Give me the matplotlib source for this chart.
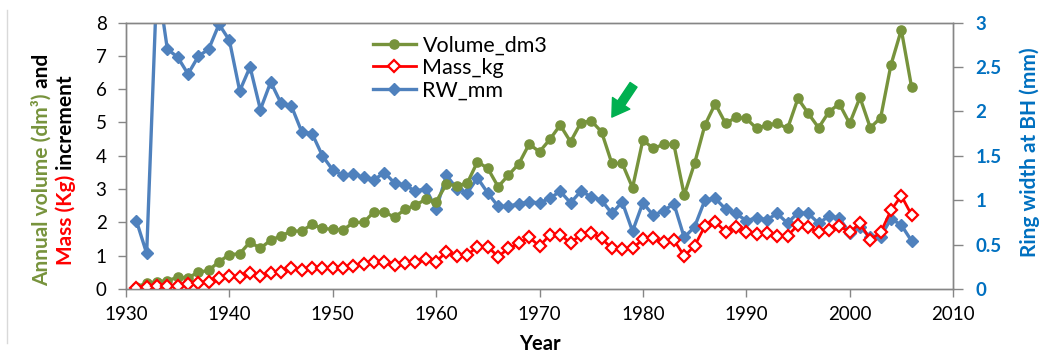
import matplotlib
matplotlib.use("Agg")
import matplotlib.pyplot as plt
from matplotlib.lines import Line2D
from matplotlib.ticker import FuncFormatter

plt.rcParams['font.family'] = ['Lato', 'DejaVu Sans']

years = list(range(1931, 2007))

volume_dm3 = [0.07, 0.17, 0.22, 0.25, 0.35, 0.34, 0.50, 0.56, 0.82, 1.03,
              1.06, 1.41, 1.22, 1.47, 1.59, 1.74, 1.74, 1.94, 1.82, 1.79,
              1.77, 2.00, 2.00, 2.32, 2.30, 2.16, 2.39, 2.52, 2.69, 2.62,
              3.15, 3.10, 3.17, 3.82, 3.62, 3.07, 3.42, 3.76, 4.35, 4.12,
              4.49, 4.92, 4.42, 4.99, 5.05, 4.72, 3.77, 3.77, 3.04, 4.47,
              4.22, 4.34, 4.34, 2.82, 3.77, 4.92, 5.56, 4.97, 5.15, 5.12,
              4.82, 4.92, 4.97, 4.82, 5.72, 5.27, 4.84, 5.32, 5.56, 4.97,
              5.75, 4.84, 5.14, 6.73, 7.78, 6.05]

mass_kg = [0.02, 0.07, 0.10, 0.10, 0.10, 0.14, 0.17, 0.22, 0.32, 0.38,
           0.35, 0.48, 0.40, 0.47, 0.52, 0.62, 0.57, 0.64, 0.62, 0.64,
           0.62, 0.69, 0.75, 0.82, 0.81, 0.72, 0.77, 0.82, 0.89, 0.82,
           1.12, 0.99, 1.02, 1.27, 1.27, 0.97, 1.22, 1.37, 1.55, 1.29,
           1.62, 1.62, 1.39, 1.62, 1.69, 1.52, 1.22, 1.19, 1.22, 1.49,
           1.52, 1.40, 1.47, 0.99, 1.29, 1.89, 2.02, 1.72, 1.87, 1.72,
           1.65, 1.67, 1.59, 1.60, 1.92, 1.86, 1.70, 1.77, 1.90, 1.70,
           1.97, 1.48, 1.70, 2.36, 2.80, 2.22]

rw_mm = [0.77, 0.40, 3.50, 2.70, 2.61, 2.42, 2.62, 2.70, 2.98, 2.80,
         2.23, 2.50, 2.02, 2.33, 2.09, 2.06, 1.77, 1.75, 1.50, 1.34,
         1.28, 1.29, 1.26, 1.23, 1.31, 1.19, 1.17, 1.10, 1.13, 0.90,
         1.28, 1.13, 1.08, 1.25, 1.08, 0.93, 0.93, 0.96, 0.98, 0.97,
         1.02, 1.10, 0.97, 1.10, 1.04, 1.00, 0.85, 0.98, 0.65, 0.97,
         0.83, 0.88, 0.96, 0.58, 0.70, 1.00, 1.02, 0.90, 0.85, 0.77,
         0.80, 0.78, 0.85, 0.74, 0.86, 0.85, 0.74, 0.82, 0.80, 0.63,
         0.70, 0.58, 0.59, 0.79, 0.72, 0.54]

green = '#77933C'
red = '#FF0000'
blue = '#4F81BD'
axis_blue = '#0070C0'
grey = '#868686'

W, H = 1043, 354
fig = plt.figure(figsize=(W / 100, H / 100), dpi=100)
ax = fig.add_axes([126 / W, 1 - 289 / H, 827 / W, 266.5 / H])
ax2 = ax.twinx()

l3, = ax2.plot(years, rw_mm, color=blue, lw=2.4, marker='D', ms=6.4,
               mfc=blue, mec=blue, label='RW_mm')
l1, = ax.plot(years, volume_dm3, color=green, lw=2.4, marker='o', ms=6.6,
              mfc=green, mec=green, label='Volume_dm3')
l2, = ax.plot(years, mass_kg, color=red, lw=2.0, marker='D', ms=6.2,
              mfc='white', mec=red, mew=1.6, label='Mass_kg')

ax.set_zorder(ax2.get_zorder() + 1)
ax.patch.set_visible(False)

ax.set_xlim(1930, 2010)
ax.set_ylim(0, 8)
ax2.set_ylim(0, 3)
ax.set_xticks(range(1930, 2011, 10))
ax.set_yticks(range(0, 9))
ax2.set_yticks([0, 0.5, 1, 1.5, 2, 2.5, 3])
ax2.yaxis.set_major_formatter(FuncFormatter(lambda v, p: ('%g' % v)))

for a in (ax, ax2):
    for s in a.spines.values():
        s.set_color(grey)
        s.set_linewidth(1.0)

ax.tick_params(axis='both', direction='out', length=6, width=1, color=grey,
               labelsize=13.5, labelcolor='black')
ax.tick_params(axis='y', pad=8)
ax.tick_params(axis='x', pad=6)
ax2.tick_params(axis='y', direction='out', length=7, width=1, color=grey,
                labelsize=13.5, labelcolor=axis_blue, pad=9)
for t in ax2.get_yticklabels():
    t.set_fontweight('bold')

ax.set_xlabel('Year', fontsize=14.5, fontweight='bold', labelpad=8)

ax.legend(handles=[l1, l2, l3], loc='upper left', bbox_to_anchor=(0.283, 1.0),
          frameon=False, fontsize=15.5, handlelength=2.0, handletextpad=0.3,
          labelspacing=0.12, borderaxespad=0.2)

# green arrow pointing at the 1977 drop
ax.annotate('', xy=(1977.0, 5.16), xytext=(1979.1, 6.13),
            arrowprops=dict(arrowstyle='simple,head_length=0.6,head_width=0.75,tail_width=0.3',
                            color='#00B050', mutation_scale=20, shrinkA=0, shrinkB=0))


def stacked_label(x, yc, parts, size=15):
    texts = []
    for s, c in parts:
        texts.append(fig.text(x / W, 0.5, s, color=c, rotation=90, ha='center',
                              va='bottom', fontsize=size, fontweight='bold'))
    fig.canvas.draw()
    r = fig.canvas.get_renderer()
    hs = [t.get_window_extent(r).height for t in texts]
    y = (H - yc) - sum(hs) / 2
    for t, h in zip(texts, hs):
        t.set_y(y / H)
        y += h


stacked_label(42, 170, [('Annual volume (dm\u00b3)', green), (' and', 'black')])
stacked_label(66, 170, [('Mass (Kg)', red), (' increment', 'black')])
stacked_label(1030, 152, [('Ring width at BH (mm)', axis_blue)])

fig.add_artist(Line2D([7 / W, 7 / W], [1 - 10 / H, 1 - 343 / H], color='#d9d9d9', lw=1))

fig.savefig('out.png', dpi=100)
